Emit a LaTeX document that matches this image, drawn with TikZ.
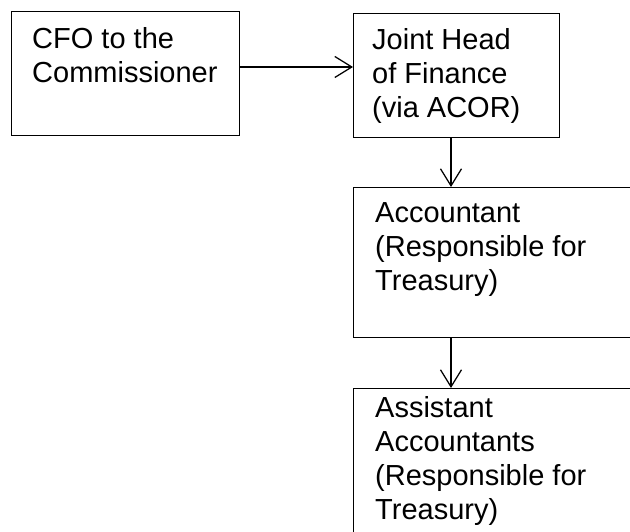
\documentclass[tikz,border=0pt]{standalone}
\usepackage{fontspec}
\setmainfont{Liberation Sans}
\usetikzlibrary{arrows.meta}
\begin{document}
\begin{tikzpicture}[x=1pt,y=1pt,
  box/.style={draw, line width=1.25pt, inner sep=0pt, anchor=north west},
  lbl/.style={anchor=north west, inner sep=0pt, align=left, font=\fontsize{29}{34}\selectfont},
  arr/.style={line width=1.25pt, -{Straight Barb[length=17pt,width=21pt]}}]
\clip (0,0) rectangle (630,532);
\coordinate (hy) at (0,465);
\coordinate (vx) at (451,0);
\node[box, minimum width=228, minimum height=124] (b1) at (11,521) {};
\node[box, minimum width=206, minimum height=124] (b2) at (353,519) {};
\node[box, minimum width=300, minimum height=150] (b3) at (353,345) {};
\node[box, minimum width=300, minimum height=170] (b4) at (353,144) {};
\node[lbl, xshift=21, yshift=-16.5] (t1) at (b1.north west) {CFO to the\\Commissioner};
\node[lbl, xshift=19, yshift=-15.5] (t2) at (b2.north west) {Joint Head\\of Finance\\(via ACOR)};
\node[lbl, xshift=22, yshift=-15.5] (t3) at (b3.north west) {Accountant\\(Responsible for\\Treasury)};
\node[lbl, xshift=22, yshift=-8] (t4) at (b4.north west) {Assistant\\Accountants\\(Responsible for\\Treasury)};
\draw[arr] (b1.east |- hy) -- (b2.west |- hy);
\draw[arr] (b2.south -| vx) -- (b3.north -| vx);
\draw[arr] (b3.south -| vx) -- (b4.north -| vx);
\end{tikzpicture}
\end{document}
